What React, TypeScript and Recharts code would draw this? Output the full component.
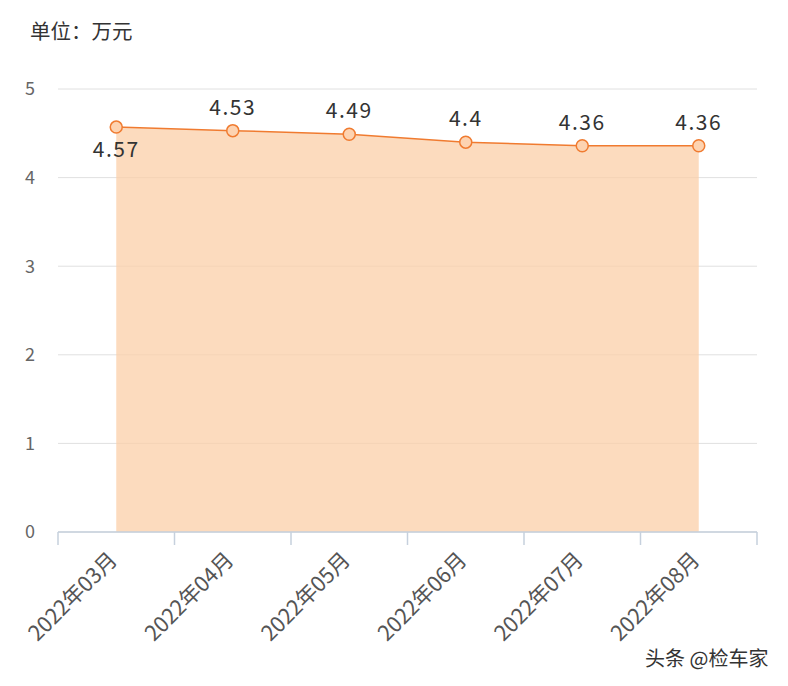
import React from "react";
import {
  ComposedChart,
  Area,
  XAxis,
  YAxis,
  CartesianGrid,
  LabelList,
} from "recharts";

const months = ["2022年03月", "2022年04月", "2022年05月", "2022年06月", "2022年07月", "2022年08月"];
const prices = [4.57, 4.53, 4.49, 4.4, 4.36, 4.36];
const yTicks = [0, 1, 2, 3, 4, 5];
const boundaryTicks = [0, 1, 2, 3, 4, 5, 6];

const data = months.map((m, i) => ({ month: m, price: prices[i] }));

const FONT = '"Noto Sans CJK SC", "Open Sans", sans-serif';

const MonthTick = (props: any) => {
  const { x, y, payload } = props;
  const ax = x - 3;
  const ay = y + 15;
  return (
    <text
      x={ax}
      y={ay}
      transform={`rotate(-45, ${ax}, ${ay})`}
      textAnchor="end"
      dy="0.35em"
      fontSize={21.5}
      fill="#555"
      fontFamily={FONT}
    >
      {payload.value}
    </text>
  );
};

const ValueLabel = (props: any) => {
  const { x, y, value, index } = props;
  const below = index === 0;
  return (
    <text
      x={x}
      y={below ? y + 30 : y - 16}
      textAnchor="middle"
      fontSize={21}
      letterSpacing={1.5}
      fill="#333"
      fontFamily={FONT}
    >
      {value}
    </text>
  );
};

export default function App() {
  return (
    <div style={{ position: "absolute", left: 0, top: 0, width: 788, height: 686, background: "#fff" }}>
      <div
        style={{
          position: "absolute",
          left: 30,
          top: 15,
          fontSize: 20.5,
          color: "#333",
          fontFamily: FONT,
          whiteSpace: "nowrap",
        }}
      >
        单位：万元
      </div>
      <ComposedChart
        width={788}
        height={686}
        data={data}
        margin={{ top: 89, right: 31, bottom: 0, left: 0 }}
      >
        <CartesianGrid vertical={false} stroke="#e0e0e0" />
        <XAxis
          xAxisId="b"
          dataKey="month"
          type="category"
          scale="band"
          height={153}
          axisLine={false}
          tickLine={false}
          tick={<MonthTick />}
          interval={0}
        />
        <XAxis
          xAxisId="a"
          type="number"
          dataKey={() => 0}
          domain={[0, 6]}
          allowDataOverflow={true}
          ticks={boundaryTicks}
          interval={0}
          tick={() => <g />}
          height={1}
          tickSize={13}
          stroke="#c6d0dd"
          axisLine={{ stroke: "#c6d0dd", strokeWidth: 1.5 }}
          tickLine={{ stroke: "#c6d0dd", strokeWidth: 1.5 }}
        />
        <YAxis
          domain={[0, 5]}
          ticks={yTicks}
          width={58}
          axisLine={false}
          tickLine={false}
          tickSize={0}
          tickMargin={23}
          tick={{ fontSize: 18, fill: "#666", fontFamily: FONT }}
        />
        <Area
          xAxisId="b"
          type="linear"
          dataKey="price"
          stroke="#f07b30"
          strokeWidth={1.5}
          fill="#fbcfa8"
          fillOpacity={0.75}
          dot={{ r: 6, fill: "#fdd3b1", stroke: "#f07b30", strokeWidth: 1.5, fillOpacity: 1 }}
          activeDot={false}
          isAnimationActive={false}
        >
          <LabelList dataKey="price" content={<ValueLabel />} />
        </Area>
      </ComposedChart>
      <div
        style={{
          position: "absolute",
          left: 645,
          top: 643,
          fontSize: 20,
          color: "#333",
          fontFamily: FONT,
          whiteSpace: "nowrap",
        }}
      >
        头条 @检车家
      </div>
    </div>
  );
}
